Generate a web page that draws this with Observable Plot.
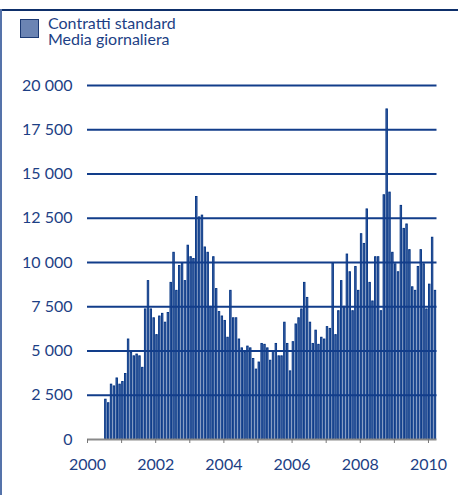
<!DOCTYPE html>
<html><head><meta charset="utf-8">
<script src="https://cdn.jsdelivr.net/npm/d3@7"></script>
<script src="https://cdn.jsdelivr.net/npm/@observablehq/plot@0.6"></script>
<style>
body{margin:0;background:#fff;}
#wrap{position:relative;width:458px;height:495px;overflow:hidden;font-family:Lato,"Open Sans",sans-serif;}
#topline{position:absolute;left:0;top:9px;width:458px;height:2px;background:#0e2f6a;}
#leftline{position:absolute;left:0;top:9px;width:2px;height:486px;background:#5573aa;}
#legend{position:absolute;left:20px;top:15px;color:#1d3f85;font-size:16px;line-height:16px;}
#legend .sw{position:absolute;left:0;top:4px;width:17px;height:17px;background:#6b84b3;border:1.5px solid #1c3a74;}
#legend .tx{position:absolute;left:28px;white-space:nowrap;height:16px;}
#chart{position:absolute;left:0;top:0;}
</style></head>
<body>
<div id="wrap">
  <div id="chart"></div>
  <div id="topline"></div>
  <div id="leftline"></div>
  <div id="legend"><div class="sw"></div><div class="tx" style="top:0">Contratti standard</div><div class="tx" style="top:16px">Media giornaliera</div></div>
</div>
<script>
// Monthly series: first month July 2000, last month March 2010
const startYear = 2000;
const startMonth = 7;
const values = [
  2250, 2050, 3100, 3000, 3450, 3100, 3250, 3700, 5650, 4900, 4700, 4800,
  4700, 4050, 7350, 8950, 7350, 6850, 5900, 6950, 7100, 6600, 7150, 8850,
  10550, 8400, 9800, 9950, 8950, 10950, 10300, 10200, 13700, 12550, 12650, 10850,
  10550, 7500, 10300, 8500, 7200, 6950, 6700, 5750, 8400, 6850, 6850, 5650,
  5150, 4900, 5250, 5150, 4550, 3950, 4350, 5400, 5350, 5150, 4450, 5000,
  5400, 4700, 4700, 6600, 5400, 3850, 5500, 6500, 6850, 7350, 8850, 8000,
  6600, 5400, 6150, 5350, 5750, 5650, 6350, 6250, 9950, 5900, 7250, 8950,
  7500, 10450, 9450, 7250, 9750, 8400, 11600, 11050, 13000, 8850, 7800, 10300,
  10300, 7250, 13800, 18650, 13950, 10550, 9900, 9450, 13200, 11900, 12150, 10700,
  8600, 8400, 9750, 10700, 9900, 7350, 8750, 11400, 8400
];
const yTicks = [0, 2500, 5000, 7500, 10000, 12500, 15000, 17500, 20000];
const yearTicks = [2000, 2001, 2002, 2003, 2004, 2005, 2006, 2007, 2008, 2009, 2010];
const yearLabels = [2000, 2002, 2004, 2006, 2008, 2010];

const data = values.map((v, i) => {
  const t = startYear + (startMonth - 1) / 12 + i / 12;
  return {x1: t + 0.2 / 12, x2: t + 0.72 / 12, v};
});
const fmt = n => d3.format(",")(n).replace(/,/g, " ");

const chart = Plot.plot({
  width: 458, height: 495,
  marginLeft: 87, marginRight: 21.5, marginTop: 85, marginBottom: 56,
  x: {domain: [2000, 2010.25], axis: null},
  y: {domain: [0, 20000], axis: null},
  style: {fontFamily: "Lato, 'Open Sans', sans-serif", fontSize: "16px", color: "#1d3f85", background: "transparent"},
  marks: [
    Plot.rectY(data, {x1: "x1", x2: "x2", y: "v", fill: "#4467a8", stroke: "#003282", strokeWidth: 0.9}),
    Plot.ruleY(yTicks.filter(d => d > 0), {stroke: "#123d8a", strokeWidth: 2}),
    Plot.ruleY([0], {stroke: "#8a8a8a", strokeWidth: 2}),
    Plot.axisX({ticks: yearTicks, tickSize: 4, tickPadding: 15, stroke: "#777", fill: "#1d3f85",
      tickFormat: d => yearLabels.includes(d) ? String(d) : "", label: null}),
    Plot.axisY({ticks: yTicks, tickSize: 0, tickPadding: 15, fill: "#1d3f85", tickFormat: fmt, label: null})
  ]
});
document.getElementById("chart").append(chart);
</script>
</body></html>
